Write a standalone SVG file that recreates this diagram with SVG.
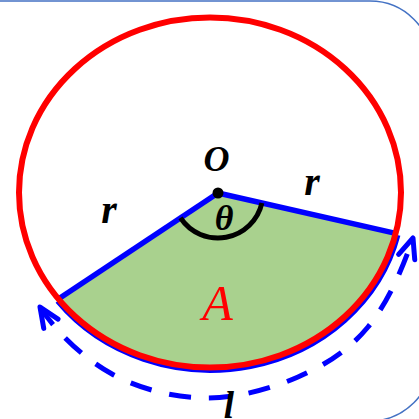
<svg xmlns="http://www.w3.org/2000/svg" width="419" height="419" viewBox="0 0 419 419">
<defs>
<style>
.lbl{font-family:"Liberation Serif","Times New Roman",serif;font-weight:bold;font-style:italic;fill:#000;text-anchor:middle}
.blue{stroke:#0000FF;fill:none;stroke-width:5.5}
</style>
<marker id="ah" markerUnits="userSpaceOnUse" markerWidth="40" markerHeight="40" viewBox="-30 -20 40 40" refX="0" refY="0" orient="auto-start-reverse">
<path d="M-20,-8.5 L0,0 L-20,8.5" fill="none" stroke="#0000FF" stroke-width="5" stroke-linecap="round" stroke-linejoin="round"/>
</marker>
</defs>
<rect width="419" height="419" fill="#FFFFFF"/>
<rect x="-100" y="1" width="532" height="420" rx="62" ry="62" fill="none" stroke="#4472C4" stroke-width="1.5"/>
<g id="sector">
<path d="M218,193 L58.4,299 A191,175 0 0 0 395.7,233.4 Z" fill="#A9D18E"/>
</g>
<g id="connectors">
<path class="blue" d="M57.7,301.1 A192.5,176 0 0 0 397.7,235.1"/>
<line class="blue" x1="218" y1="193" x2="58.4" y2="299"/>
<line class="blue" x1="218" y1="193" x2="395.7" y2="233.4"/>
<path d="M40,307 C57.3,333.7 84.5,358.8 112,374 C139.5,389.2 174,397.5 205,398 C236,398.5 270.8,388.8 298,377 C325.2,365.2 348.8,350.2 368,327 C387.2,303.8 403,268 413,238" fill="none" stroke="#0000FF" stroke-width="5" stroke-dasharray="22 18" marker-start="url(#ah)" marker-end="url(#ah)"/>
</g>
<g id="circle">
<ellipse cx="210" cy="192.5" rx="191" ry="175" fill="none" stroke="#FF0000" stroke-width="6"/>
</g>
<g id="angle">
<path d="M261.9,203 A45,45 0 0 1 180.5,217.9" fill="none" stroke="#000" stroke-width="5"/>
<circle cx="218" cy="193" r="5.5" fill="#000"/>
</g>
<g id="labels">
<text class="lbl" x="216.5" y="171" font-size="36">O</text>
<text class="lbl" x="109" y="223" font-size="40">r</text>
<text class="lbl" x="312" y="195" font-size="40">r</text>
<text class="lbl" x="224" y="230" font-size="36">θ</text>
<text x="217.5" y="320" font-size="50" font-family="Liberation Serif, Times New Roman, serif" font-style="italic" fill="#FF0000" text-anchor="middle">A</text>
<text class="lbl" x="229" y="418" font-size="37">l</text>
</g>
</svg>
